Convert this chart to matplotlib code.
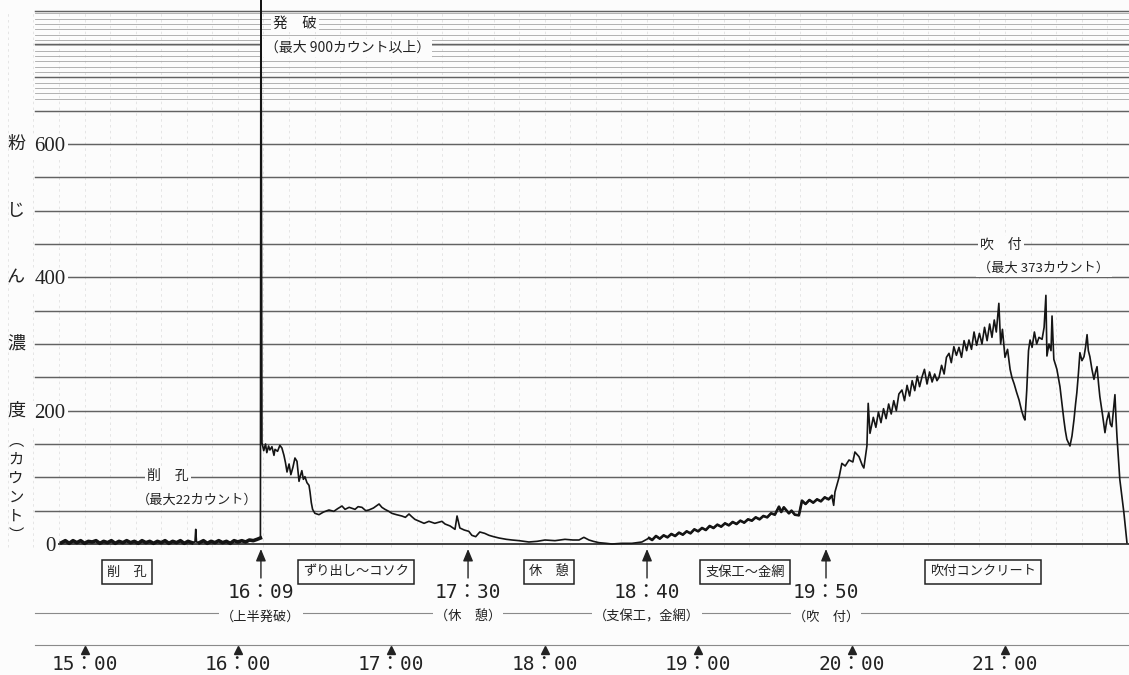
import numpy as np
import matplotlib.pyplot as plt
from matplotlib.transforms import blended_transform_factory

plt.rcParams['font.family'] = ['Noto Sans CJK JP', 'DejaVu Sans']

# 時刻は 15:00 からの経過分、値は粉じん計のカウント
drill_t = [-9, -7.5, -6, -4.5, -3, -1.5, 0, 1.5, 3, 4.5,
           6, 7.5, 9, 10.5, 12, 13.5, 15, 16.5, 18, 19.5,
           21, 22.5, 24, 25.5, 27, 28.5, 30, 31.5, 33, 34.5,
           36, 37.5, 39, 40.5, 42, 43.2, 43.5, 43.8, 45, 46.5,
           48, 49.5, 51, 52.5, 54, 55.5, 57, 58.5, 60, 61.5,
           63, 64.5, 66, 67.5, 68.8]
drill_c = [2, 5, 1, 5, 2, 5, 1, 4, 3, 5,
           1, 4, 2, 5, 1, 4, 2, 5, 2, 4,
           1, 5, 2, 4, 1, 4, 2, 5, 1, 4,
           2, 5, 1, 4, 2, 3, 22, 3, 2, 5,
           1, 4, 2, 5, 2, 4, 1, 5, 3, 5,
           3, 6, 5, 7, 9]

blast_t = [69.0, 69.4, 70.1, 70.8, 71.3, 72.0, 72.5, 73.3, 74.1, 74.5,
           75.5, 76.4, 77.2, 78.0, 78.6, 79.2, 80.0, 80.7, 81.5, 82.3,
           83.1, 83.9, 84.4, 85.0, 85.6, 86.2, 87.0, 87.8, 88.2, 88.7,
           89.2]
blast_c = [920, 152, 140, 150, 137, 147, 141, 146, 133, 142,
           139, 148, 144, 133, 122, 108, 120, 104, 115, 129,
           124, 94, 102, 110, 97, 101, 92, 88, 78, 62,
           52]

muck_t = [90.1, 91.7, 93.5, 95.6, 97.5, 99.0, 100.7, 101.9, 103.5, 105.8,
          107.0, 108.5, 110.0, 111.2, 113.0, 115.2, 116.3, 117.5, 119.0, 120.2,
          122.0, 124.1, 125.5, 126.9, 128.0, 129.2, 131.0, 132.8, 134.7, 137.0,
          139.8, 141.0, 143.0, 144.9, 145.7, 146.8, 148.5, 150.3]
muck_c = [46, 44, 48, 51, 49, 53, 57, 52, 55, 52,
          56, 55, 50, 51, 54, 60, 55, 52, 49, 46,
          44, 42, 40, 45, 41, 37, 34, 31, 34, 31,
          34, 30, 27, 22, 42, 24, 21, 19]

rest_t = [151.5, 153.0, 154.6, 156.5, 158.2, 160.0, 162.1, 165.0, 167.2, 170.0,
          173.8, 177.0, 180.1, 184.0, 187.9, 191.0, 193.4, 195.3, 197.3, 199.0,
          201.2, 204.0, 206.3, 210.0, 214.1, 218.0]
rest_c = [13, 11, 18, 16, 13, 11, 9, 7, 6, 5,
          3, 4, 6, 5, 7, 6, 6, 10, 6, 4,
          2, 1, 0, 1, 1, 3]

support_t = [220.8, 222.0, 223.5, 225.0, 226.5, 228.0, 229.5, 231.0, 232.5, 234.0,
             235.5, 237.0, 238.5, 240.0, 241.5, 243.0, 244.5, 246.0, 247.5, 249.0,
             250.5, 252.0, 253.5, 255.0, 256.5, 258.0, 259.5, 261.0, 262.5, 264.0,
             265.5, 267.0, 268.5, 270.0, 271.6, 272.5, 273.5, 275.5, 276.5, 277.8,
             279.4, 280.6, 282.0, 283.5, 285.0, 286.5, 288.0, 289.5, 291.0, 292.3,
             293.0, 293.5, 295.1, 296.2, 297.5, 299.0, 300.5, 301.3, 302.9, 304.2,
             304.8, 306.0, 306.5, 307.2]
support_c = [9, 6, 12, 8, 13, 10, 15, 12, 17, 14,
             19, 16, 22, 19, 24, 21, 27, 24, 29, 26,
             31, 28, 33, 30, 35, 32, 37, 35, 40, 37,
             42, 40, 46, 44, 56, 48, 55, 46, 50, 44,
             43, 65, 60, 66, 62, 67, 64, 70, 67, 72,
             58, 78, 100, 121, 117, 126, 123, 138, 131, 118,
             114, 147, 211, 166]

shot_t = [308.5, 309.5, 310.5, 311.5, 312.5, 313.5, 314.5, 315.5, 316.5, 317.5,
          318.5, 319.7, 320.7, 321.7, 322.7, 323.7, 324.7, 325.7, 326.6, 327.5,
          328.5, 329.5, 330.5, 331.5, 332.5, 333.4, 334.2, 335.2, 336.2, 337.1,
          338.1, 339.0, 340.0, 341.0, 342.0, 343.0, 344.0, 345.0, 345.9, 346.9,
          347.9, 348.9, 350.0, 351.0, 352.0, 353.0, 354.0, 354.9, 355.8, 356.6,
          357.6, 358.3, 359.0, 360.0, 361.0, 362.0, 362.7, 363.6, 364.5, 365.5,
          366.5, 367.3, 367.8, 368.5, 369.2, 369.8, 370.6, 371.5, 372.4, 373.3,
          374.5, 375.3, 376.0, 376.4, 377.2, 378.0, 378.4, 379.1, 380.3, 381.5,
          382.3, 383.0, 383.6, 384.2, 385.4, 386.2, 387.0, 387.6, 388.1, 388.7,
          389.3, 390.1, 390.9, 391.5, 392.1, 392.6, 393.2, 394.0, 394.8, 395.4,
          396.0, 396.6, 397.1, 398.1, 399.1, 399.8, 400.6, 401.2, 401.8, 402.4,
          403.0, 403.4, 403.8, 404.9, 406.5, 407.7]
shot_c = [190, 175, 198, 182, 203, 188, 210, 195, 215, 200,
          225, 231, 215, 238, 222, 245, 230, 252, 236, 250,
          262, 240, 258, 243, 255, 245, 250, 268, 255, 280,
          286, 272, 296, 283, 295, 280, 305, 290, 306, 292,
          318, 298, 316, 300, 325, 305, 330, 310, 336, 318,
          361, 300, 322, 280, 292, 262, 250, 240, 228, 216,
          200, 190, 186, 230, 290, 306, 295, 318, 300, 310,
          307, 325, 373, 282, 300, 290, 342, 277, 262, 236,
          210, 187, 170, 157, 147, 162, 187, 210, 227, 255,
          287, 275, 281, 295, 314, 290, 281, 262, 247, 258,
          266, 240, 221, 195, 167, 185, 197, 180, 176, 200,
          224, 190, 161, 97, 47, 2]

event_times = ['16:09', '17:30', '18:40', '19:50']
event_notes = ['（上半発破）', '（休　憩）', '（支保工，金網）', '（吹　付）']
work_labels = ['削　孔', 'ずり出し～コソク', '休　憩', '支保工～金網', '吹付コンクリート']
clock_times = ['15:00', '16:00', '17:00', '18:00', '19:00', '20:00', '21:00']


def to_min(hhmm):
    h, m = hhmm.split(':')
    return (int(h) - 15) * 60 + int(m)


trace_t = np.concatenate([drill_t, blast_t, muck_t, rest_t, support_t, shot_t])
trace_c = np.concatenate([drill_c, blast_c, muck_c, rest_c, support_c, shot_c])

INK = '#222222'
GRID = '#626262'
PAPER = '#fcfcfc'
W, H = 1129, 675

fig = plt.figure(figsize=(W / 100, H / 100), dpi=100)
fig.patch.set_facecolor(PAPER)

# upper panel: recorder chart
ax = fig.add_axes([0, (H - 556) / H, 1, 556 / H])
ax.set_facecolor(PAPER)
ax.set_xlim(-33.05, 408.5)
ax.set_ylim(-18, 816)
for s in ax.spines.values():
    s.set_visible(False)
ax.set_xticks([])
ax.set_yticks([0, 200, 400, 600])
ax.tick_params(axis='y', length=0, pad=-36, labelsize=15, labelcolor=INK)
for lbl in ax.get_yticklabels():
    lbl.set_ha('center')
    lbl.set_fontfamily('Liberation Serif')
    lbl.set_bbox(dict(fc=PAPER, ec='none', pad=2))

# chart paper rulings
x0 = 35 / W
for lvl in range(50, 801, 50):
    ax.axhline(lvl, xmin=x0, color=GRID, lw=1.05, zorder=1)
for lvl in np.arange(668, 800, 8):
    if lvl % 50:
        ax.axhline(lvl, xmin=x0, color='#a5a5a5', lw=0.6, zorder=1)
ax.axhline(0, xmin=55 / W, color='#333333', lw=1.3, zorder=1)
ax.vlines(np.arange(-30, 401, 10), -4, 800, colors='#b8b8b8', lw=0.6,
          linestyles=(0, (3, 4)), alpha=0.4, zorder=0.5)

ax.plot(trace_t, trace_c, color='#151515', lw=1.2, zorder=3)
# the pen smears into a solid band where the signal is low and jittery
ax.plot(drill_t[:35], drill_c[:35], color='#151515', lw=2.6, zorder=3)
ax.plot(drill_t[38:], drill_c[38:], color='#151515', lw=2.6, zorder=3)
ax.plot(support_t[:50], support_c[:50], color='#151515', lw=1.9, zorder=3)

# vertical axis title
tr = blended_transform_factory(ax.transAxes, ax.transData)
for ch, lvl in zip('粉じん濃度', [600, 500, 400, 300, 200]):
    ax.text(16 / W, lvl, ch, transform=tr, ha='center', va='center',
            fontsize=13, color=INK)
ax.text(16 / W, 84, '︵\nカ\nウ\nン\nト\n︶', transform=tr, ha='center',
        va='center', fontsize=11, linespacing=1.15, color=INK)

box = dict(fc=PAPER, ec='none', pad=1.5)
ax.text(73.7, 781, '発　破', ha='left', va='center', fontsize=10.5,
        color=INK, bbox=box, zorder=2)
ax.text(70.4, 744, '（最大 900カウント以上）', ha='left', va='center',
        fontsize=10, color=INK, bbox=box, zorder=2)
ax.text(32.7, 102, '削　孔', ha='center', va='center', fontsize=10,
        color=INK, bbox=box, zorder=2)
ax.text(44.0, 66, '（最大22カウント）', ha='center', va='center',
        fontsize=9.5, color=INK, bbox=box, zorder=2)
ax.text(358.4, 448, '吹　付', ha='center', va='center', fontsize=10,
        color=INK, bbox=box, zorder=2)
ax.text(375.2, 414, '（最大 373カウント）', ha='center', va='center',
        fontsize=9.5, color=INK, bbox=box, zorder=2)

# lower panel: work stages and clock times
axb = fig.add_axes([0, 0, 1, 131 / H], sharex=ax)
axb.set_ylim(131, 0)
axb.axis('off')
for lvl in (69, 101):
    axb.axhline(lvl, xmin=x0, color='#8a8a8a', lw=0.8, zorder=1)

mono = ['DejaVu Sans Mono', 'Noto Sans CJK JP']
for hhmm, note in zip(event_times, event_notes):
    t = to_min(hhmm)
    axb.annotate('', xy=(t, 5), xytext=(t, 34),
                 arrowprops=dict(arrowstyle='-|>,head_length=0.6,head_width=0.25',
                                 mutation_scale=12, color=INK, lw=1.0,
                                 shrinkA=0, shrinkB=0))
    axb.text(t, 49, hhmm.replace(':', '：'), ha='center', va='center',
             fontsize=14, family=mono, color=INK)
    axb.text(t, 73, note, ha='center', va='center', fontsize=9.5,
             color=INK, bbox=box, zorder=2)

for label, t in zip(work_labels, [16.6, 106.2, 181.7, 258.3, 351.4]):
    axb.text(t, 28, label, ha='center', va='center', fontsize=9.5, color=INK,
             bbox=dict(boxstyle='square,pad=0.4', fc=PAPER, ec=INK, lw=1.1))

clock_min = [to_min(c) for c in clock_times]
axb.plot(clock_min, [106] * len(clock_min), ls='none', marker='^',
         ms=6, color=INK)
for c, t in zip(clock_times, clock_min):
    axb.text(t, 121, c.replace(':', '：'), ha='center', va='center',
             fontsize=14, family=mono, color=INK)

fig.savefig('out.png', dpi=100, facecolor=fig.get_facecolor())
